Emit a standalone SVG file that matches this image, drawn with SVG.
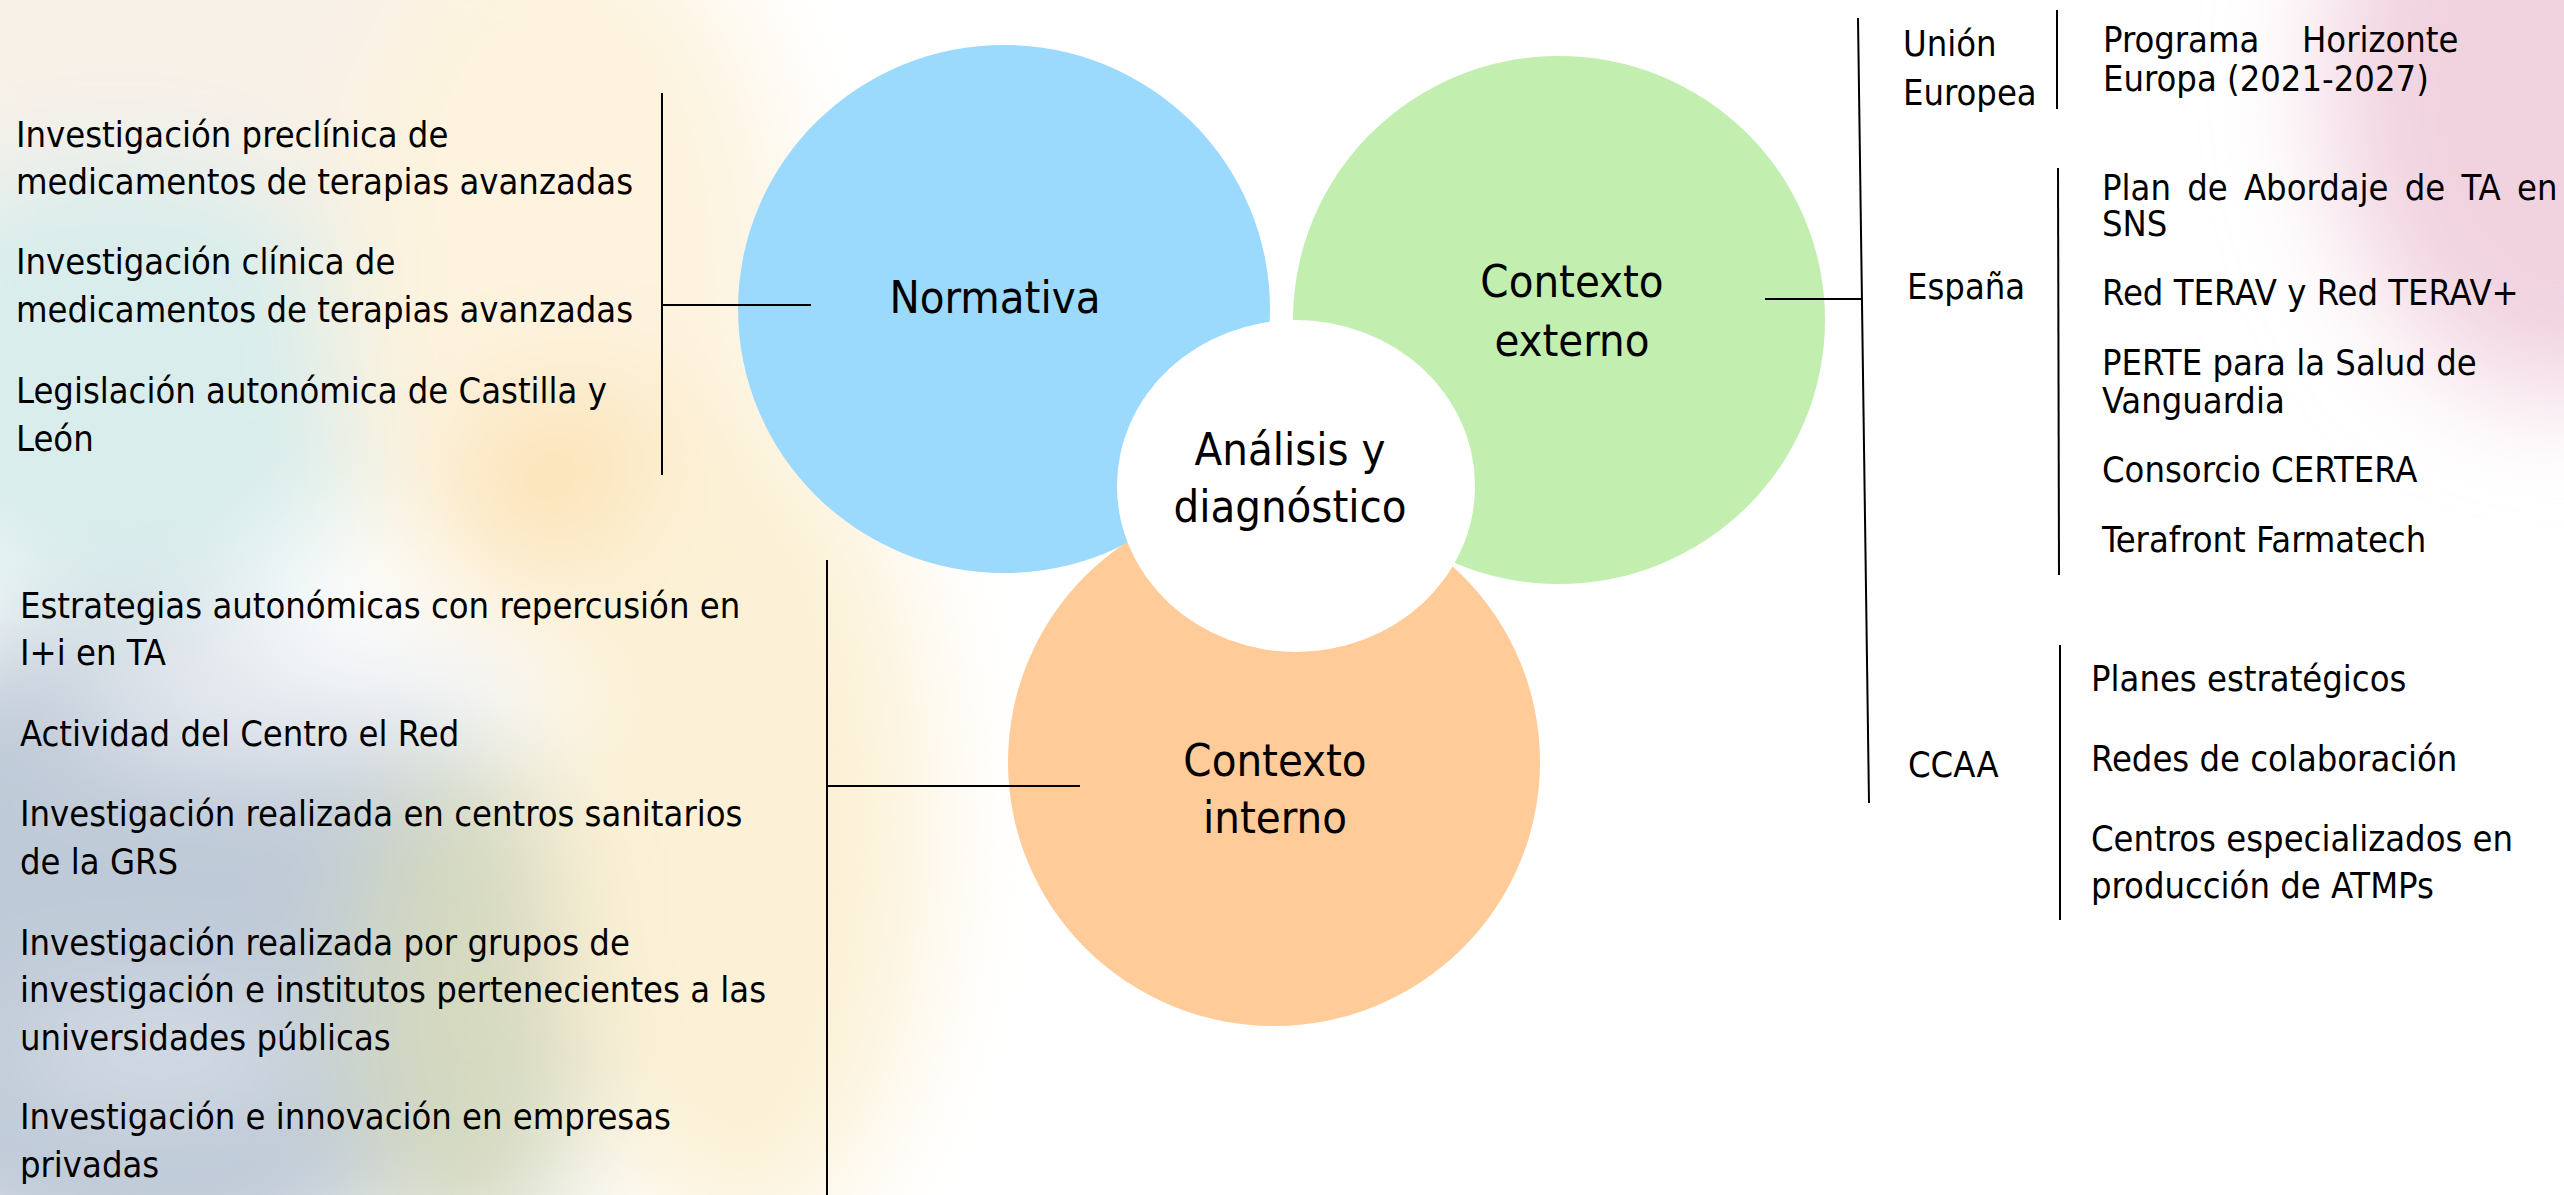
<svg xmlns="http://www.w3.org/2000/svg" width="2564" height="1195" viewBox="0 0 2564 1195">
<style>
.t{font-family:"DejaVu Sans Condensed","DejaVu Sans",sans-serif;font-stretch:condensed;font-size:36px;fill:#000}
.m{font-family:"DejaVu Sans Condensed","DejaVu Sans",sans-serif;font-stretch:condensed;font-size:45px;fill:#000;text-anchor:middle}
.ln{stroke:#000;stroke-width:2;fill:none}
</style>
<defs>
<filter id="blur" x="-50%" y="-50%" width="200%" height="200%"><feGaussianBlur stdDeviation="55"/></filter>
</defs>
<rect width="2564" height="1195" fill="#fff"/>
<g id="background" filter="url(#blur)">
<ellipse cx="220" cy="40" rx="420" ry="220" fill="#F8F1E8"/>
<ellipse cx="120" cy="380" rx="280" ry="220" fill="#D8EDEC"/>
<ellipse cx="560" cy="280" rx="230" ry="380" fill="#FDF3DE"/>
<ellipse cx="580" cy="480" rx="130" ry="90" fill="#FCE2B4"/>
<ellipse cx="150" cy="950" rx="360" ry="340" fill="#BFCAD8"/>
<ellipse cx="300" cy="700" rx="230" ry="55" fill="#EEF1F5"/>
<ellipse cx="160" cy="1050" rx="150" ry="40" fill="#DDE3EA"/>
<ellipse cx="470" cy="1010" rx="120" ry="260" fill="#D4D9C0"/>
<ellipse cx="740" cy="820" rx="190" ry="420" fill="#FCF1D6"/>
<ellipse cx="2564" cy="80" rx="240" ry="320" fill="#F1D3E0"/>
</g>
<g id="node-normativa">
<ellipse cx="1004" cy="309" rx="266" ry="264" fill="#9CDAFD"/>
<text class="m" x="995" y="313">Normativa</text>
</g>
<g id="node-externo">
<ellipse cx="1559" cy="320" rx="266" ry="264" fill="#C2EFB0"/>
<text class="m" x="1572" y="297">Contexto</text>
<text class="m" x="1572" y="356">externo</text>
</g>
<g id="node-interno">
<ellipse cx="1274" cy="762" rx="266" ry="264" fill="#FECB99"/>
<text class="m" x="1275" y="776">Contexto</text>
<text class="m" x="1275" y="833">interno</text>
</g>
<g id="node-centro">
<ellipse cx="1296" cy="486" rx="179" ry="166" fill="#fff"/>
<text class="m" x="1290" y="465">Análisis y</text>
<text class="m" x="1290" y="522">diagnóstico</text>
</g>
<g id="connectors">
<line class="ln" x1="662" y1="93" x2="662" y2="475"/>
<line class="ln" x1="662" y1="305" x2="811" y2="305"/>
<line class="ln" x1="827" y1="560" x2="827" y2="1195"/>
<line class="ln" x1="827" y1="786" x2="1080" y2="786"/>
<line class="ln" x1="1858" y1="18" x2="1869" y2="803"/>
<line class="ln" x1="1765" y1="299" x2="1861" y2="299"/>
<line class="ln" x1="2057" y1="10" x2="2057" y2="109"/>
<line class="ln" x1="2058" y1="168" x2="2059" y2="575"/>
<line class="ln" x1="2060" y1="645" x2="2060" y2="920"/>
</g>
<g id="list-normativa">
<text class="t" x="16" y="147">Investigación preclínica de</text>
<text class="t" x="16" y="194">medicamentos de terapias avanzadas</text>
<text class="t" x="16" y="274">Investigación clínica de</text>
<text class="t" x="16" y="322">medicamentos de terapias avanzadas</text>
<text class="t" x="16" y="403">Legislación autonómica de Castilla y</text>
<text class="t" x="16" y="451">León</text>
</g>
<g id="list-interno">
<text class="t" x="20" y="618">Estrategias autonómicas con repercusión en</text>
<text class="t" x="20" y="665">I+i en TA</text>
<text class="t" x="20" y="746">Actividad del Centro el Red</text>
<text class="t" x="20" y="826">Investigación realizada en centros sanitarios</text>
<text class="t" x="20" y="874">de la GRS</text>
<text class="t" x="20" y="955">Investigación realizada por grupos de</text>
<text class="t" x="20" y="1002">investigación e institutos pertenecientes a las</text>
<text class="t" x="20" y="1050">universidades públicas</text>
<text class="t" x="20" y="1129">Investigación e innovación en empresas</text>
<text class="t" x="20" y="1177">privadas</text>
</g>
<g id="group-ue">
<text class="t" x="1903" y="56">Unión</text>
<text class="t" x="1903" y="105">Europea</text>
<text class="t" y="52"><tspan x="2103">Programa</tspan><tspan x="2302">Horizonte</tspan></text>
<text class="t" x="2103" y="91">Europa (2021-2027)</text>
</g>
<g id="group-espana">
<text class="t" x="1907" y="299">España</text>
<text class="t" x="2102" y="200" word-spacing="6">Plan de Abordaje de TA en</text>
<text class="t" x="2102" y="236">SNS</text>
<text class="t" x="2102" y="305">Red TERAV y Red TERAV+</text>
<text class="t" x="2102" y="375">PERTE para la Salud de</text>
<text class="t" x="2102" y="413">Vanguardia</text>
<text class="t" x="2102" y="482">Consorcio CERTERA</text>
<text class="t" x="2102" y="552">Terafront Farmatech</text>
</g>
<g id="group-ccaa">
<text class="t" x="1908" y="777">CCAA</text>
<text class="t" x="2091" y="691">Planes estratégicos</text>
<text class="t" x="2091" y="771">Redes de colaboración</text>
<text class="t" x="2091" y="851">Centros especializados en</text>
<text class="t" x="2091" y="898">producción de ATMPs</text>
</g>
</svg>
